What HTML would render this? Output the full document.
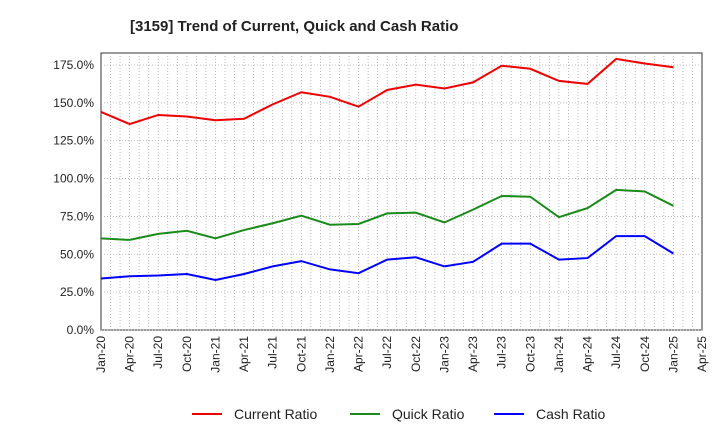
<!DOCTYPE html>
<html><head><meta charset="utf-8"><style>
body{margin:0;background:#fff;font-family:"Liberation Sans",Arial,sans-serif}
svg{display:block}
</style></head><body>
<svg id="chart" width="720" height="440">
<text x="130" y="31" font-size="15" font-weight="bold" fill="#222">[3159]  Trend of Current, Quick and Cash Ratio</text>
<rect x="101" y="53" width="601" height="277" fill="none" stroke="#333"/>
<g id="grid"></g><g id="axes"></g><g id="series"></g>
<g>
<line x1="192" y1="414" x2="222" y2="414" stroke="#e00" stroke-width="2"/><text x="234" y="419" font-size="14" fill="#222">Current Ratio</text>
<line x1="350" y1="414" x2="380" y2="414" stroke="#1a8a1a" stroke-width="2"/><text x="392" y="419" font-size="14" fill="#222">Quick Ratio</text>
<line x1="494" y1="414" x2="524" y2="414" stroke="#00f" stroke-width="2"/><text x="536" y="419" font-size="14" fill="#222">Cash Ratio</text>
</g>
</svg>
<script>
const xLabels=["Jan-20","Apr-20","Jul-20","Oct-20","Jan-21","Apr-21","Jul-21","Oct-21","Jan-22","Apr-22","Jul-22","Oct-22","Jan-23","Apr-23","Jul-23","Oct-23","Jan-24","Apr-24","Jul-24","Oct-24","Jan-25","Apr-25"];
const yTicks=[0,25,50,75,100,125,150,175];
const currentRatio=[144,136,142,141,138.5,139.5,149,157,154,147.5,158.5,162,159.5,163.5,174.5,172.5,164.5,162.5,179,176,173.5];
const quickRatio=[60.5,59.5,63.5,65.5,60.5,66,70.5,75.5,69.5,70,77,77.5,71,79.5,88.5,88,74.5,80.5,92.5,91.5,82];
const cashRatio=[34,35.5,36,37,33,37,42,45.5,40,37.5,46.5,48,42,45,57,57,46.5,47.5,62,62,50.5];
const NS="http://www.w3.org/2000/svg";
const x0=101,x1=702,y0=330,yTop=65;
const xs=i=>x0+(x1-x0)*i/(xLabels.length-1);
const ys=v=>y0-(y0-yTop)*v/175;
function mk(tag,attrs,parent){const e=document.createElementNS(NS,tag);for(const k in attrs)e.setAttribute(k,attrs[k]);document.getElementById(parent).appendChild(e);return e;}
for(let m=1;m<(xLabels.length-1)*3;m++){const x=x0+(x1-x0)*m/((xLabels.length-1)*3);
const l=mk('line',{x1:x,x2:x,y1:53,y2:330,stroke:'#aaa','stroke-dasharray':'1,2','stroke-width':0.8},'grid');

}
yTicks.forEach(v=>{const y=ys(v);
const l=mk('line',{x1:x0,x2:x1,y1:y,y2:y,stroke:'#aaa','stroke-dasharray':'1,2','stroke-width':0.8},'grid');


const t=mk('text',{x:94,y:y+4,'font-size':12,'text-anchor':'end',fill:'#222'},'axes');t.textContent=v.toFixed(1)+'%';

});
xLabels.forEach((s,i)=>{const x=xs(i);
const t=mk('text',{x:x+4,y:336,'font-size':12,'text-anchor':'end',fill:'#222',transform:`rotate(-90 ${x+4} 336)`},'axes');t.textContent=s;

});
[[currentRatio,'#e00','current-ratio-line'],[quickRatio,'#1a8a1a','quick-ratio-line'],[cashRatio,'#00f','cash-ratio-line']].forEach(([d,c,n])=>{
const p=mk('polyline',{points:d.map((v,i)=>xs(i)+','+ys(v)).join(' '),fill:'none',stroke:c,'stroke-width':2},'series');

});
</script>
</body></html>
